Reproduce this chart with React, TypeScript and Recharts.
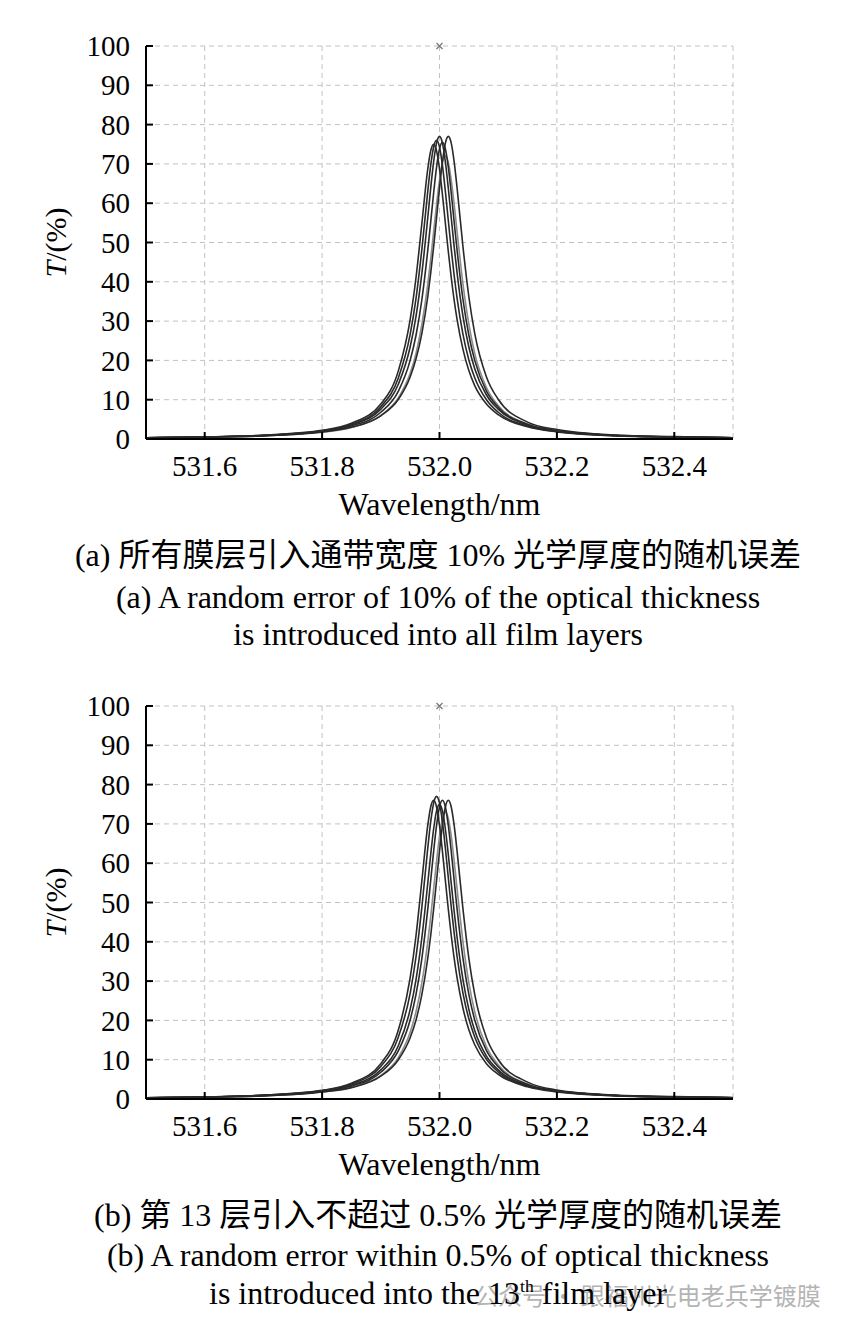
import React from "react";
import {
  ComposedChart,
  Line,
  Scatter,
  XAxis,
  YAxis,
  CartesianGrid,
  Label,
} from "recharts";

// wavelength samples (nm), denser around the 532 nm peak
const wavelength = [
  531.5, 531.6, 531.7, 531.8, 531.85, 531.9, 531.93, 531.95, 531.96, 531.97,
  531.98, 531.985, 531.99, 531.995, 532.0, 532.005, 532.01, 532.015, 532.02,
  532.025, 532.03, 532.04, 532.05, 532.06, 532.08, 532.1, 532.15, 532.2, 532.3,
  532.4, 532.5,
];

const xTicks = [531.6, 531.8, 532.0, 532.2, 532.4];
const yTicks = [0, 10, 20, 30, 40, 50, 60, 70, 80, 90, 100];

// (a) 10% random error on all layers - transmittance runs (%)
const runA1 = [0.3, 0.5, 0.9, 2.1, 3.7, 8.2, 15.6, 26.6, 35.8, 48.3, 63.0, 69.6, 74.3, 76.0, 74.3, 69.6, 63.0, 55.6, 48.3, 41.6, 35.8, 26.6, 20.1, 15.6, 10.0, 6.8, 3.3, 1.9, 0.9, 0.5, 0.3];
const runA2 = [0.3, 0.5, 0.9, 2.0, 3.6, 7.6, 14.0, 23.4, 31.2, 42.2, 56.3, 63.8, 70.5, 75.3, 77.0, 75.3, 70.5, 63.8, 56.3, 48.9, 42.2, 31.2, 23.4, 17.9, 11.2, 7.6, 3.6, 2.0, 0.9, 0.5, 0.3];
const runA3 = [0.3, 0.5, 1.0, 2.2, 4.0, 8.9, 17.4, 30.4, 41.1, 54.9, 68.7, 73.3, 75.0, 73.3, 68.7, 62.2, 54.9, 47.7, 41.1, 35.3, 30.4, 22.8, 17.4, 13.6, 8.9, 6.2, 3.1, 1.8, 0.8, 0.5, 0.3];
const runA4 = [0.3, 0.5, 0.9, 1.9, 3.3, 6.8, 12.2, 20.0, 26.4, 35.5, 48.0, 55.2, 62.6, 69.2, 73.8, 75.5, 73.8, 69.2, 62.6, 55.2, 48.0, 35.5, 26.4, 20.0, 12.2, 8.1, 3.7, 2.1, 0.9, 0.5, 0.3];
const runA5 = [0.3, 0.5, 0.8, 1.8, 3.0, 5.9, 10.1, 15.8, 20.4, 26.9, 36.2, 42.2, 48.9, 56.3, 63.8, 70.5, 75.3, 77.0, 75.3, 70.5, 63.8, 48.9, 36.2, 26.9, 15.8, 10.1, 4.3, 2.4, 1.0, 0.6, 0.3];
const runA6 = [0.3, 0.5, 0.8, 1.7, 2.9, 6.0, 10.5, 16.7, 21.8, 29.2, 39.4, 45.8, 52.7, 59.7, 65.9, 70.4, 72.0, 70.4, 65.9, 59.7, 52.7, 39.4, 29.2, 21.8, 13.1, 8.5, 3.8, 2.1, 0.9, 0.5, 0.3];

// (b) <=0.5% random error on layer 13 - transmittance runs (%)
const runB1 = [0.3, 0.5, 1.0, 2.1, 3.8, 8.3, 15.8, 26.9, 36.2, 48.9, 63.8, 70.5, 75.3, 77.0, 75.3, 70.5, 63.8, 56.3, 48.9, 42.2, 36.2, 26.9, 20.4, 15.8, 10.1, 6.9, 3.3, 2.0, 0.9, 0.5, 0.3];
const runB2 = [0.3, 0.5, 1.0, 2.2, 4.0, 9.0, 17.6, 30.8, 41.6, 55.6, 69.6, 74.3, 76.0, 74.3, 69.6, 63.0, 55.6, 48.3, 41.6, 35.8, 30.8, 23.1, 17.6, 13.8, 9.0, 6.3, 3.1, 1.8, 0.8, 0.5, 0.3];
const runB3 = [0.3, 0.5, 0.9, 2.0, 3.5, 7.4, 13.6, 22.8, 30.4, 41.1, 54.9, 62.2, 68.7, 73.3, 75.0, 73.3, 68.7, 62.2, 54.9, 47.7, 41.1, 30.4, 22.8, 17.4, 10.9, 7.4, 3.5, 2.0, 0.9, 0.5, 0.3];
const runB4 = [0.3, 0.5, 0.9, 1.9, 3.3, 6.8, 12.3, 20.1, 26.6, 35.8, 48.3, 55.6, 63.0, 69.6, 74.3, 76.0, 74.3, 69.6, 63.0, 55.6, 48.3, 35.8, 26.6, 20.1, 12.3, 8.2, 3.7, 2.1, 0.9, 0.5, 0.3];
const runB5 = [0.3, 0.5, 0.8, 1.8, 2.9, 5.8, 10.0, 15.6, 20.1, 26.6, 35.8, 41.6, 48.3, 55.6, 63.0, 69.6, 74.3, 76.0, 74.3, 69.6, 63.0, 48.3, 35.8, 26.6, 15.6, 10.0, 4.3, 2.3, 1.0, 0.6, 0.4];
const runB6 = [0.3, 0.5, 0.8, 1.8, 3.0, 6.0, 10.6, 17.0, 22.2, 29.6, 40.0, 46.4, 53.4, 60.5, 66.9, 71.4, 73.0, 71.4, 66.9, 60.5, 53.4, 40.0, 29.6, 22.2, 13.3, 8.7, 3.8, 2.1, 0.9, 0.5, 0.3];

// small cross drawn at the top of the 532 nm grid line
const peakMark = [{ w: 532.0, t: 100 }];

const SERIF = '"Liberation Serif", "Times New Roman", serif';
const MIXED = '"Liberation Serif", "Noto Sans CJK SC", serif';
const DARK = "#2a2a2a";
const LIGHT = "#8c8c8c";

type Run = { values: number[]; color: string };

const panelA: Run[] = [
  { values: runA6, color: LIGHT },
  { values: runA5, color: DARK },
  { values: runA4, color: DARK },
  { values: runA2, color: DARK },
  { values: runA1, color: DARK },
  { values: runA3, color: DARK },
];

const panelB: Run[] = [
  { values: runB6, color: LIGHT },
  { values: runB5, color: DARK },
  { values: runB4, color: DARK },
  { values: runB3, color: DARK },
  { values: runB1, color: DARK },
  { values: runB2, color: DARK },
];

const axisLine = { stroke: "#000", strokeWidth: 2 };
const TICK_GAP = 16;
const TICK_LEN = 7;

// tick label plus a short inward tick mark
const YTick = (props: any) => {
  const { x, y, payload } = props;
  const ax = x + TICK_GAP;
  return (
    <g>
      <line x1={ax} y1={y} x2={ax + TICK_LEN} y2={y} stroke="#000" strokeWidth={2} />
      <text x={x} y={y} dy="0.35em" textAnchor="end" fontFamily={SERIF} fontSize={29} fill="#000">
        {payload.value}
      </text>
    </g>
  );
};

const XTick = (props: any) => {
  const { x, y, payload } = props;
  const ay = y - TICK_GAP;
  return (
    <g>
      <line x1={x} y1={ay} x2={x} y2={ay - TICK_LEN} stroke="#000" strokeWidth={2} />
      <text x={x} y={y} dy="0.71em" textAnchor="middle" fontFamily={SERIF} fontSize={29} fill="#000">
        {Number(payload.value).toFixed(1)}
      </text>
    </g>
  );
};

const Cross = (props: any) => {
  const { cx, cy } = props;
  return (
    <path
      d={`M${cx - 3},${cy - 3}L${cx + 3},${cy + 3}M${cx + 3},${cy - 3}L${cx - 3},${cy + 3}`}
      stroke="#777"
      strokeWidth={1.2}
    />
  );
};

const Panel = ({ runs, top }: { runs: Run[]; top: number }) => {
  const rows = wavelength.map((w, i) => {
    const row: Record<string, number> = { w };
    runs.forEach((r, k) => {
      row[`r${k}`] = r.values[i];
    });
    return row;
  });

  return (
    <div style={{ position: "absolute", left: 0, top }}>
      <ComposedChart
        width={851}
        height={530}
        data={rows}
        margin={{ top: 46, right: 118, bottom: 11, left: 6 }}
      >
        <CartesianGrid stroke="#c2c2c2" strokeDasharray="5 4" />
        <XAxis
          dataKey="w"
          type="number"
          domain={[531.5, 532.5]}
          ticks={xTicks}
          interval={0}
          allowDataOverflow
          height={80}
          axisLine={axisLine}
          tickLine={false}
          tickSize={0}
          tickMargin={TICK_GAP}
          tick={<XTick />}
        >
          <Label
            content={({ viewBox }: any) => (
              <text
                x={viewBox.x + viewBox.width / 2}
                y={viewBox.y + 76}
                textAnchor="middle"
                fontFamily={SERIF}
                fontSize={32}
                fill="#000"
              >
                Wavelength/nm
              </text>
            )}
          />
        </XAxis>
        <YAxis
          type="number"
          domain={[0, 100]}
          ticks={yTicks}
          interval={0}
          width={140}
          axisLine={axisLine}
          tickLine={false}
          tickSize={0}
          tickMargin={TICK_GAP}
          tick={<YTick />}
        >
          <Label
            content={({ viewBox }: any) => {
              const cy = viewBox.y + viewBox.height / 2;
              return (
                <text
                  x={55}
                  y={cy}
                  transform={`rotate(-90 55 ${cy})`}
                  textAnchor="middle"
                  dominantBaseline="central"
                  fontFamily={SERIF}
                  fontSize={30}
                  fill="#000"
                >
                  <tspan fontStyle="italic">T</tspan>/(%)
                </text>
              );
            }}
          />
        </YAxis>
        {runs.map((r, k) => (
          <Line
            key={k}
            type="monotone"
            dataKey={`r${k}`}
            stroke={r.color}
            strokeWidth={1.6}
            dot={false}
            isAnimationActive={false}
          />
        ))}
        <Scatter
          data={peakMark}
          dataKey="t"
          shape={Cross}
          isAnimationActive={false}
        />
      </ComposedChart>
    </div>
  );
};

const Caption = ({ top, children }: { top: number; children: React.ReactNode }) => (
  <div
    style={{
      position: "absolute",
      left: 0,
      top,
      width: 876,
      textAlign: "center",
      fontFamily: MIXED,
      fontSize: 32,
      lineHeight: "38px",
      color: "#000",
      whiteSpace: "nowrap",
    }}
  >
    {children}
  </div>
);

export default function App() {
  return (
    <div
      style={{
        position: "absolute",
        left: 0,
        top: 0,
        width: 851,
        height: 1329,
        background: "#fff",
        overflow: "hidden",
      }}
    >
      <Panel runs={panelA} top={0} />
      <Caption top={536}>(a) 所有膜层引入通带宽度 10% 光学厚度的随机误差</Caption>
      <Caption top={578}>(a) A random error of 10% of the optical thickness</Caption>
      <Caption top={615}>is introduced into all film layers</Caption>

      <Panel runs={panelB} top={660} />
      <Caption top={1196}>(b) 第 13 层引入不超过 0.5% 光学厚度的随机误差</Caption>
      <Caption top={1236}>(b) A random error within 0.5% of optical thickness</Caption>
      <div
        style={{
          position: "absolute",
          left: 474,
          top: 1280,
          fontFamily: '"Noto Sans CJK SC", sans-serif',
          fontSize: 24,
          lineHeight: "30px",
          color: "#b4b4b4",
          whiteSpace: "nowrap",
        }}
      >
        公众号 · 跟福州光电老兵学镀膜
      </div>
      <Caption top={1274}>
        is introduced into the 13
        <sup style={{ fontSize: "0.55em", lineHeight: 0 }}>th</sup> film layer
      </Caption>
    </div>
  );
}
